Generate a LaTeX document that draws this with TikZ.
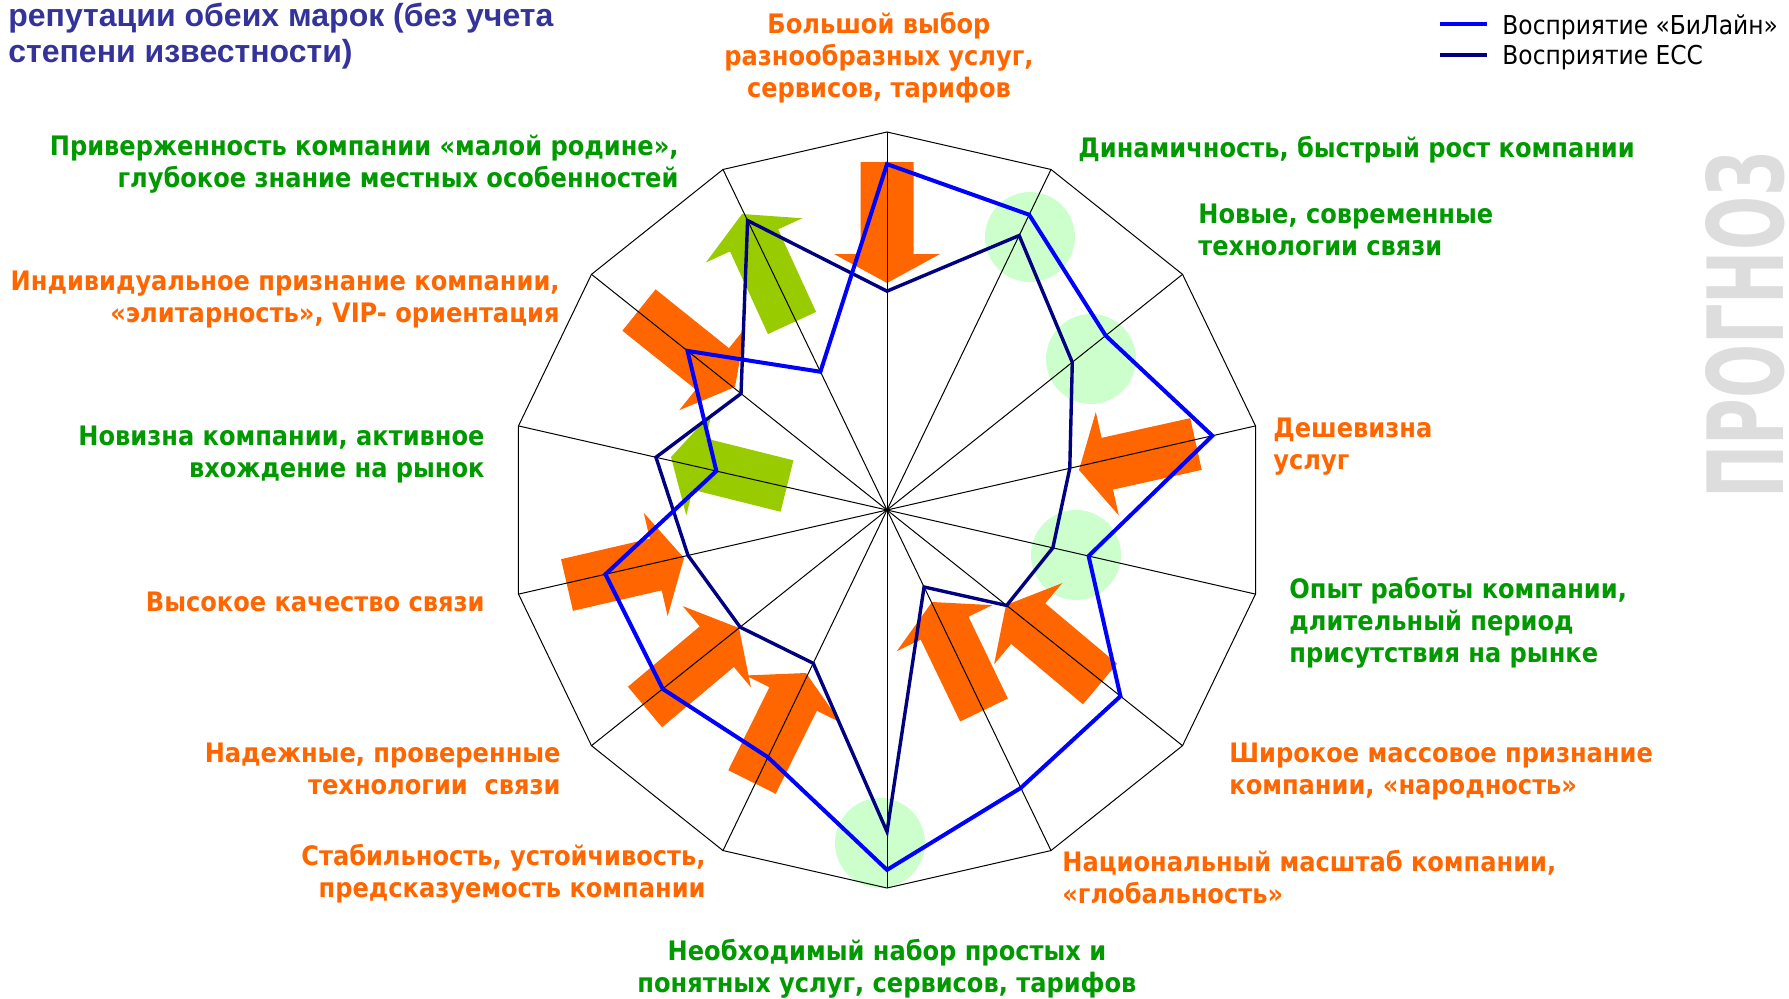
\documentclass[tikz,border=0pt]{standalone}
\usepackage{graphicx}
\usepackage{fontspec}
\setmainfont{DejaVu Sans Condensed}
\newfontfamily\titlefont{Liberation Sans}
\usetikzlibrary{calc}

\definecolor{beeblue}{HTML}{0000FF}
\definecolor{eccnavy}{HTML}{000080}
\definecolor{hotorange}{HTML}{FF6600}
\definecolor{limegreen}{HTML}{99CC00}
\definecolor{palegreen}{HTML}{CCFFCC}
\definecolor{labgreen}{HTML}{009900}
\definecolor{titleblue}{HTML}{333399}
\definecolor{stampgray}{HTML}{DDDDDD}

\newcommand{\labfont}{\bfseries\fontsize{13.4}{16}\selectfont}
% fat arrow: style, tail, tip
\newcommand{\blockarrow}[3]{%
  \coordinate (ta) at #2;
  \coordinate (tp) at #3;
  \coordinate (hb) at ($(tp)!14.5pt!(ta)$);
  \fill[#1] ($(ta)!13.25pt!90:(tp)$) -- ($(hb)!13.25pt!90:(tp)$)
    -- ($(hb)!26.5pt!90:(tp)$) -- (tp) -- ($(hb)!26.5pt!-90:(tp)$)
    -- ($(hb)!13.25pt!-90:(tp)$) -- ($(ta)!13.25pt!-90:(tp)$) -- cycle;
}

\begin{document}
\begin{tikzpicture}[
  x=0.5pt, y=-0.5pt,
  grid/.style={black, line width=0.5pt},
  beeline/.style={beeblue, line width=2pt},
  eccline/.style={eccnavy, line width=1.7pt},
  hint/.style={fill=palegreen},
  orarrow/.style={fill=hotorange},
  grarrow/.style={fill=limegreen},
  lab/.style={font=\labfont, inner sep=0pt},
  oran/.style={lab, text=hotorange},
  gre/.style={lab, text=labgreen},
  legend/.style={font=\fontsize{13}{15.5}\selectfont, inner sep=0pt, anchor=west},
]
\useasboundingbox (0,0) rectangle (1789,998);
\coordinate (c) at (887,510);
% --- highlight circles ---
\fill[hint] (1030,237) circle[radius=45];
\fill[hint] (1091,359) circle[radius=45];
\fill[hint] (1076,555) circle[radius=45];
\fill[hint] (880,843)  circle[radius=45];
% --- change arrows ---
\blockarrow{orarrow}{(887,162)}{(887,283)}
\blockarrow{orarrow}{(1196,444)}{(1079,470)}
\blockarrow{orarrow}{(1100,684)}{(1006,605)}
\blockarrow{orarrow}{(984,710)}{(932,602)}
\blockarrow{orarrow}{(752,782)}{(806,673)}
\blockarrow{orarrow}{(645,707)}{(739,628)}
\blockarrow{orarrow}{(567,585)}{(684,558)}
\blockarrow{orarrow}{(639,310)}{(735,387)}
\blockarrow{grarrow}{(787,486)}{(671,457)}
\blockarrow{grarrow}{(792,323)}{(742,214)}
% --- radar grid ---
\foreach \k in {0,...,13}
  \draw[grid] (c) -- ($(c)+({\k*360/14-90}:378)$);
\draw[grid] ($(c)+(-90:378)$) \foreach \k in {1,...,13} {-- ($(c)+({\k*360/14-90}:378)$)} -- cycle;
% --- data ---
\foreach \v [count=\k from 0] in {0.579,0.806,0.627,0.496,0.45,0.405,0.226,0.851,0.45,0.497,0.54,0.627,0.494,0.85}
  \coordinate (e\k) at ($(c)+({\k*360/14-90}:{\v*378})$);
\foreach \v [count=\k from 0] in {0.915,0.867,0.74,0.883,0.547,0.79,0.816,0.952,0.726,0.759,0.764,0.463,0.675,0.406}
  \coordinate (b\k) at ($(c)+({\k*360/14-90}:{\v*378})$);
\draw[eccline] (e0) \foreach \k in {1,...,13} {-- (e\k)} -- cycle;
\draw[beeline] (b0) \foreach \k in {1,...,13} {-- (b\k)} -- cycle;
% --- axis labels ---
\node[oran, align=center] (l0) at (879,58) {Большой выбор\\разнообразных услуг,\\сервисов, тарифов};
\node[gre, anchor=west] (l1) at (1078,150) {Динамичность, быстрый рост компании};
\node[gre, anchor=west, align=left] (l2) at (1198,230) {Новые, современные\\технологии связи};
\node[oran, anchor=west, align=left] (l3) at (1273,447) {Дешевизна\\услуг};
\node[gre, anchor=west, align=left] (l4) at (1289,623) {Опыт работы компании,\\длительный период\\присутствия на рынке};
\node[oran, anchor=west, align=left] (l5) at (1229,772) {Широкое массовое признание\\компании, «народность»};
\node[oran, anchor=west, align=left] (l6) at (1062,877) {Национальный масштаб компании,\\«глобальность»};
\node[gre, align=center] (l7) at (887,969) {Необходимый набор простых и\\понятных услуг, сервисов, тарифов};
\node[oran, anchor=east, align=right] (l8) at (706,874) {Стабильность, устойчивость,\\предсказуемость компании};
\node[oran, anchor=east, align=right] (l9) at (561,769) {Надежные, проверенные\\технологии~ связи};
\node[oran, anchor=east] (l10) at (485,602) {Высокое качество связи};
\node[gre, anchor=east, align=right] (l11) at (485,455) {Новизна компании, активное\\вхождение на рынок};
\node[oran, anchor=east, align=right] (l12) at (560,300) {Индивидуальное признание компании,\\«элитарность», VIP- ориентация};
\node[gre, anchor=east, align=right] (l13) at (679,164) {Приверженность компании «малой родине»,\\глубокое знание местных особенностей};
% --- title, legend, stamp ---
\node[anchor=west, align=left, inner sep=0pt, text=titleblue, font=\titlefont\bfseries\fontsize{16}{18.1}\selectfont] (title) at (8,36) {репутации обеих марок (без учета\\степени известности)};
\draw[beeline] (1440,24) -- (1487,24);
\node[legend] (lg1) at (1502,27) {Восприятие «БиЛайн»};
\draw[eccline] (1440,55) -- (1487,55);
\node[legend] (lg2) at (1502,58) {Восприятие ЕСС};
\node[rotate=90, inner sep=0pt, text=stampgray] (stamp) at (1745,325) {\resizebox{173.5pt}{39pt}{\bfseries ПРОГНОЗ}};
\end{tikzpicture}
\end{document}
